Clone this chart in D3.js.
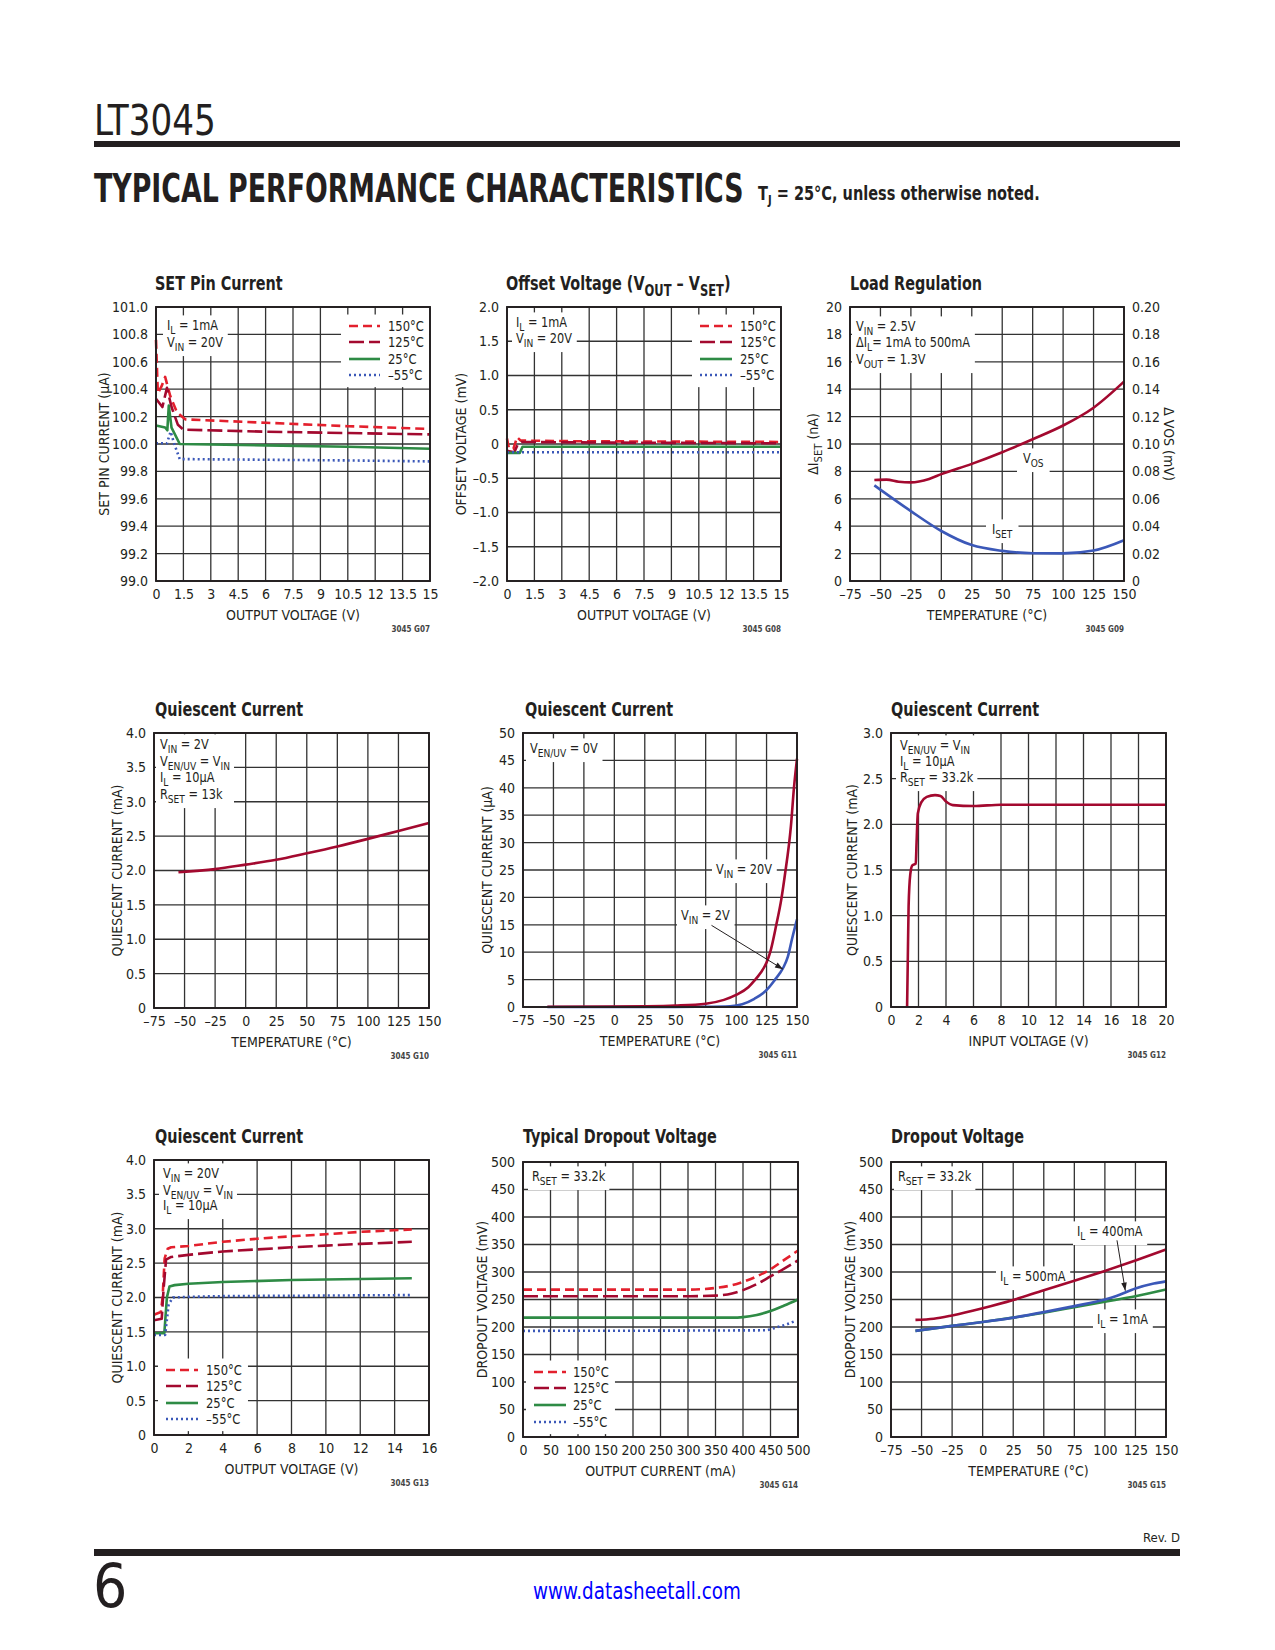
<!DOCTYPE html>
<html><head><meta charset="utf-8">
<script src="https://cdn.jsdelivr.net/npm/d3@7"></script>
<style>
body{margin:0;background:#fff;}
svg text{white-space:pre;}
</style></head><body>
<svg id="page" width="1275" height="1650" xmlns="http://www.w3.org/2000/svg" style="display:block"></svg>
<script>
// ---------------- DATA ----------------
// G07 SET pin current vs output voltage (µA)
const setPin150 = [[0,100.76],[0.1,100.37],[0.3,100.42],[0.5,100.49],[0.78,100.35],[1.15,100.23],[1.6,100.18],[6,100.155],[10.5,100.13],[15,100.11]];
const setPin125 = [[0,100.33],[0.35,100.27],[0.6,100.41],[0.85,100.27],[1.2,100.14],[1.5,100.105],[6,100.09],[10.5,100.08],[15,100.07]];
const setPin25  = [[0,100.135],[0.5,100.12],[0.62,100.1],[0.7,100.28],[0.85,100.12],[1.3,100.0],[6,99.99],[10.5,99.98],[15,99.965]];
const setPinM55 = [[0,100.005],[0.6,100.005],[0.8,100.09],[1.0,100.0],[1.3,99.89],[6,99.885],[10.5,99.88],[15,99.873]];
// G08 offset voltage (mV)
const offset150 = [[0,0.08],[0.1,-0.06],[0.35,-0.07],[0.55,0.1],[0.75,0.05],[4,0.04],[15,0.03]];
const offset125 = [[0,-0.1],[0.4,-0.12],[0.6,0.0],[0.8,0.03],[6,0.02],[15,0.01]];
const offset25  = [[0,-0.13],[0.7,-0.13],[0.85,-0.04],[15,-0.04]];
const offsetM55 = [[0,-0.12],[15,-0.12]];
// G09 load regulation
const loadIset = [[-55,6.98],[-25,5.1],[0,3.65],[25,2.62],[50,2.2],[75,2.03],[100,2.02],[125,2.22],[150,2.97]];       // nA
const loadVos  = [[-55,0.0737],[-45,0.074],[-35,0.0725],[-25,0.072],[-10,0.0745],[0,0.078],[25,0.0855],[50,0.094],[75,0.1035],[100,0.1135],[125,0.1265],[150,0.1455]]; // mV
// G10 quiescent current vs temperature (mA)
const iqTemp = [[-55,1.975],[-25,2.02],[0,2.085],[25,2.155],[50,2.25],[75,2.35],[100,2.46],[125,2.575],[150,2.69]];
// G11 shutdown quiescent current (µA)
const iqOff20 = [[-55,0.05],[0,0.08],[25,0.12],[50,0.25],[75,0.6],[90,1.3],[100,2.2],[110,3.6],[115,4.8],[120,6.2],[125,8.1],[128,10],[133,15],[137,19.5],[140,24],[145,33],[147.5,40],[150,45.3]];
const iqOff2  = [[-55,0],[50,0.02],[75,0.05],[95,0.15],[105,0.5],[115,1.5],[122,2.5],[127,3.6],[132,5],[136,6.2],[139,7.3],[142.5,9.2],[146,12.5],[150,16]];
// G12 quiescent current vs input voltage (mA)
const iqVin = [[1.17,0],[1.22,0.5],[1.28,1.1],[1.4,1.45],[1.55,1.55],[1.8,1.57],[1.86,1.8],[1.95,2.12],[2.2,2.24],[2.6,2.3],[3.2,2.32],[3.6,2.31],[4.0,2.25],[4.5,2.21],[6,2.2],[8,2.215],[20,2.215]];
// G13 quiescent current vs output voltage (mA)
const iqVout150 = [[0,1.75],[0.4,1.79],[0.5,2.0],[0.62,2.57],[0.8,2.71],[1,2.73],[2,2.75],[4,2.81],[6,2.855],[8,2.89],[10,2.92],[12,2.955],[15,2.99]];
const iqVout125 = [[0,1.67],[0.45,1.69],[0.55,2.1],[0.7,2.55],[1,2.59],[2,2.62],[4,2.67],[6,2.70],[8,2.73],[10,2.755],[12,2.78],[15,2.81]];
const iqVout25  = [[0,1.48],[0.6,1.48],[0.75,2.0],[0.9,2.16],[1.2,2.18],[2,2.2],[4,2.225],[8,2.255],[15,2.28]];
const iqVoutM55 = [[0,1.455],[0.65,1.455],[0.85,1.9],[1.1,2.0],[2,2.01],[4,2.02],[15,2.035]];
// G14 dropout vs output current (mV)
const drop150 = [[0,268],[300,268],[350,271],[380,276],[400,282],[425,292],[450,305],[475,322],[500,339]];
const drop125 = [[0,256],[300,256],[350,257],[380,261],[400,267],[425,278],[450,292],[475,306],[500,321]];
const drop25  = [[0,217],[380,217],[400,218],[425,222],[450,229],[475,239],[500,250]];
const dropM55 = [[0,193],[440,194],[460,199],[480,205],[495,211]];
// G15 dropout vs temperature (mV)
const dropT500 = [[-55,213],[-40,215],[-25,221],[0,234],[25,249],[50,267],[75,284],[100,302],[125,321],[150,341]];
const dropT400 = [[-55,193],[-25,202],[0,209],[25,217],[50,227],[75,238],[100,250],[110,257],[125,270],[140,279],[150,283]];
const dropT1   = [[-55,193],[-25,202],[0,209],[25,217],[50,226],[75,236],[100,246],[125,256],[150,268]];

// tick values
const voutTicks = [0,1.5,3,4.5,6,7.5,9,10.5,12,13.5,15];
const setPinTicks = [99.0,99.2,99.4,99.6,99.8,100.0,100.2,100.4,100.6,100.8,101.0];
const offsetTicks = [-2,-1.5,-1,-0.5,0,0.5,1,1.5,2];
const tempTicks = [-75,-50,-25,0,25,50,75,100,125,150];
const isetTicks = [0,2,4,6,8,10,12,14,16,18,20];
const vosTicks = [0,0.02,0.04,0.06,0.08,0.10,0.12,0.14,0.16,0.18,0.20];
const iq4Ticks = [0,0.5,1,1.5,2,2.5,3,3.5,4];
const iq50Ticks = [0,5,10,15,20,25,30,35,40,45,50];
const iq3Ticks = [0,0.5,1,1.5,2,2.5,3];
const vinTicks = [0,2,4,6,8,10,12,14,16,18,20];
const vout16Ticks = [0,2,4,6,8,10,12,14,16];
const mV500Ticks = [0,50,100,150,200,250,300,350,400,450,500];
const tempLabels = ["150°C","125°C","25°C","–55°C"];

// ---------------- STYLE ----------------
const FONT = '"Liberation Sans Narrow","Arial Narrow","DejaVu Sans Condensed",sans-serif';
const INK = "#231f20";
const RED="#e3202d", DKRED="#a3092f", GREEN="#2e8b45", BLUE="#3b58b8";
const S150={color:RED,dash:"9,5"}, S125={color:DKRED,dash:"15,5"}, S25={color:GREEN,dash:null}, SM55={color:BLUE,dash:"2,3"};
const tempStyles=[S150,S125,S25,SM55];

const svg = d3.select("#page");
svg.append("rect").attr("width",1275).attr("height",1650).attr("fill","#fff");
const defs = svg.append("defs");
defs.append("marker").attr("id","arr").attr("viewBox","0 0 10 10").attr("refX",10).attr("refY",5)
  .attr("markerWidth",10).attr("markerHeight",8).attr("orient","auto").attr("markerUnits","userSpaceOnUse")
  .append("path").attr("d","M0,1.5 L10,5 L0,8.5 z").attr("fill",INK);

// horizontal squeeze about the anchor point (emulates a condensed face)
function squeeze(t, x, y, sx){
  t.attr("transform",`translate(${x},${y}) scale(${sx},1) translate(${-x},${-y})`);
}
function fitWidth(t, x, y, target){
  const w=t.node().getComputedTextLength();
  squeeze(t,x,y,target/w);
}

function rich(g, str, x, y, o={}){
  const size=o.size||14;
  const t=g.append("text").attr("x",x).attr("y",y).attr("font-size",size).attr("font-family",FONT)
    .attr("fill",o.fill||INK).attr("text-anchor",o.anchor||"start");
  if(o.weight) t.attr("font-weight",o.weight);
  const re=/_\{([^}]*)\}/g; let last=0,m; const parts=[];
  while((m=re.exec(str))){ if(m.index>last) parts.push([str.slice(last,m.index),false]); parts.push([m[1],true]); last=re.lastIndex; }
  if(last<str.length) parts.push([str.slice(last),false]);
  let down=false; const sh=size*0.28;
  parts.forEach(([s,sub])=>{
    const ts=t.append("tspan").text(s);
    if(sub){ ts.attr("font-size",size*0.8); if(!down){ts.attr("dy",sh);down=true;} }
    else if(down){ ts.attr("dy",-sh); down=false; }
  });
  if(o.transform) t.attr("transform",o.transform);
  else if(o.sx) squeeze(t,x,y,o.sx);
  return t;
}

function unionBox(nodes){
  let x0=1e9,y0=1e9,x1=-1e9,y1=-1e9;
  nodes.forEach(n=>{const b=n.getBoundingClientRect(); x0=Math.min(x0,b.left);y0=Math.min(y0,b.top);x1=Math.max(x1,b.right);y1=Math.max(y1,b.bottom);});
  return {x0,y0,x1,y1};
}

function drawChart(c){
  const g=svg.append("g");
  const x=d3.scaleLinear().domain(c.xd).range([c.l,c.r]);
  const y=d3.scaleLinear().domain(c.yd).range([c.b,c.t]);
  const y2=c.y2d?d3.scaleLinear().domain(c.y2d).range([c.b,c.t]):null;
  const gridL=g.append("g"), boxL=g.append("g"), dataL=g.append("g"), txtL=g.append("g");
  gridL.selectAll("line.v").data(c.xt).join("line").attr("class","v")
    .attr("x1",d=>x(d)).attr("x2",d=>x(d)).attr("y1",c.t).attr("y2",c.b).attr("stroke","#333").attr("stroke-width",1.3);
  gridL.selectAll("line.h").data(c.yt).join("line").attr("class","h")
    .attr("x1",c.l).attr("x2",c.r).attr("y1",d=>y(d)).attr("y2",d=>y(d)).attr("stroke","#333").attr("stroke-width",1.3);
  const styleAxis=s=>{s.select(".domain").remove(); s.selectAll("text").attr("font-size",14).attr("font-family",FONT).attr("fill",INK);};
  g.append("g").attr("transform",`translate(0,${c.b})`)
    .call(d3.axisBottom(x).tickValues(c.xt).tickFormat(c.xf).tickSize(0).tickPadding(8)).call(styleAxis);
  g.append("g").attr("transform",`translate(${c.l},0)`)
    .call(d3.axisLeft(y).tickValues(c.yt).tickFormat(c.yf).tickSize(0).tickPadding(8)).call(styleAxis);
  if(y2){
    g.append("g").attr("transform",`translate(${c.r},0)`)
      .call(d3.axisRight(y2).tickValues(c.y2t).tickFormat(c.y2f).tickSize(0).tickPadding(8)).call(styleAxis);
  }
  c.series.forEach(s=>{
    const ys=s.y2?y2:y;
    const line=d3.line().x(d=>x(d[0])).y(d=>ys(d[1])).curve(s.curve||d3.curveMonotoneX);
    const p=dataL.append("path").datum(s.data).attr("d",line).attr("fill","none")
      .attr("stroke",s.style.color).attr("stroke-width",2.6).attr("stroke-linejoin","round");
    if(s.style.dash) p.attr("stroke-dasharray",s.style.dash);
  });
  (c.arrows||[]).forEach(a=>{
    txtL.append("line").attr("x1",x(a[0])).attr("y1",y(a[1])).attr("x2",x(a[2])).attr("y2",y(a[3]))
      .attr("stroke",INK).attr("stroke-width",1).attr("marker-end","url(#arr)");
  });
  (c.notes||[]).forEach(n=>{
    const nodes=n.lines.map(L=>rich(txtL,L[0],L[1],L[2],{sx:0.9}).node());
    const b=unionBox(nodes); const p=n.pad||4;
    const bx0=Math.max(b.x0-p,c.l+1), bx1=Math.min(b.x1+p,c.r-1), by0=Math.max(b.y0-2,c.t+1), by1=Math.min(b.y1+2,c.b-1);
    boxL.append("rect").attr("x",bx0).attr("y",by0).attr("width",bx1-bx0).attr("height",by1-by0).attr("fill","#fff");
  });
  if(c.legend){
    const L=c.legend, nodes=[];
    L.rows.forEach((r,i)=>{
      const ln=txtL.append("line").attr("x1",L.x1).attr("x2",L.x2).attr("y1",r-5).attr("y2",r-5)
        .attr("stroke",tempStyles[i].color).attr("stroke-width",2.6);
      if(tempStyles[i].dash) ln.attr("stroke-dasharray",tempStyles[i].dash);
      nodes.push(ln.node());
      nodes.push(rich(txtL,tempLabels[i],L.tx,r,{sx:0.92}).node());
    });
    const b=unionBox(nodes);
    const bx0=Math.max(b.x0-8,c.l+1), bx1=Math.min(b.x1+6,c.r-1), by0=Math.max(b.y0-4,c.t+1), by1=Math.min(b.y1+4,c.b-1);
    boxL.append("rect").attr("x",bx0).attr("y",by0).attr("width",bx1-bx0).attr("height",by1-by0).attr("fill","#fff");
  }
  g.append("rect").attr("x",c.l).attr("y",c.t).attr("width",c.r-c.l).attr("height",c.b-c.t)
    .attr("fill","none").attr("stroke",INK).attr("stroke-width",1.9);
  rich(g,c.title,c.tx,c.ty,{size:20,weight:"bold",sx:0.8});
  rich(g,c.xlab,(c.l+c.r)/2,c.b+39,{anchor:"middle"});
  const cy=(c.t+c.b)/2;
  rich(g,c.ylab,c.ylx,cy,{anchor:"middle",transform:`rotate(-90,${c.ylx},${cy})`});
  if(c.y2lab) rich(g,c.y2lab,c.y2lx,cy,{anchor:"middle",transform:`rotate(90,${c.y2lx},${cy})`});
  g.append("text").attr("x",c.r).attr("y",c.b+51).attr("text-anchor","end").attr("font-size",8)
    .attr("font-weight","bold").attr("font-family",FONT).attr("fill","#444").text(c.code);
}

const en = s=>String(s).replace("-","–");
const f1 = d=>d===0?"0":en(d.toFixed(1));
const fi = d=>en(d);

// ---------------- HEADER / FOOTER ----------------
{
  const t=svg.append("text").attr("x",94).attr("y",135).attr("font-size",42).attr("font-family",FONT).attr("fill",INK).text("LT3045");
  fitWidth(t,94,135,122);
}
svg.append("rect").attr("x",94).attr("y",141).attr("width",1086).attr("height",6).attr("fill",INK);
{
  const t=svg.append("text").attr("x",94).attr("y",202).attr("font-size",39).attr("font-weight","bold").attr("font-family",FONT)
    .attr("fill",INK).text("TYPICAL PERFORMANCE CHARACTERISTICS");
  fitWidth(t,94,202,650);
}
{
  const t=svg.append("text").attr("x",758).attr("y",200).attr("font-size",19).attr("font-weight","bold").attr("font-family",FONT).attr("fill",INK);
  t.append("tspan").text("T");
  t.append("tspan").attr("font-size",13).attr("dy",4).text("J");
  t.append("tspan").attr("dy",-4).text(" = 25°C, unless otherwise noted.");
  fitWidth(t,758,200,282);
}
svg.append("text").attr("x",1180).attr("y",1542).attr("text-anchor","end").attr("font-size",13).attr("font-family",FONT).attr("fill",INK).text("Rev. D");
svg.append("rect").attr("x",94).attr("y",1549).attr("width",1086).attr("height",7).attr("fill",INK);
svg.append("text").attr("x",93).attr("y",1607).attr("font-size",60).attr("font-family",FONT).attr("fill",INK).text("6");
{
  const t=svg.append("text").attr("x",637).attr("y",1599).attr("text-anchor","middle").attr("font-size",23).attr("font-family",FONT)
    .attr("fill","#0000ff").text("www.datasheetall.com");
  fitWidth(t,637,1599,208);
}

// ---------------- CHARTS ----------------
const tempSeries=(a,b,c,d)=>[{data:a,style:S150},{data:b,style:S125},{data:c,style:S25},{data:d,style:SM55}];

drawChart({l:156,r:430,t:307,b:581,xd:[0,15],yd:[99,101],xt:voutTicks,yt:setPinTicks,xf:fi,yf:d=>d.toFixed(1),
  title:"SET Pin Current",tx:155,ty:290,xlab:"OUTPUT VOLTAGE (V)",ylab:"SET PIN CURRENT (µA)",ylx:109,code:"3045 G07",
  series:tempSeries(setPin150,setPin125,setPin25,setPinM55).map(s=>({...s,curve:d3.curveLinear})),
  notes:[{lines:[["I_{L} = 1mA",167,330],["V_{IN} = 20V",167,347]]}],
  legend:{x1:349,x2:380,tx:388,rows:[331,347,364,380]}});

drawChart({l:507,r:781,t:307,b:581,xd:[0,15],yd:[-2,2],xt:voutTicks,yt:offsetTicks,xf:fi,yf:f1,
  title:"Offset Voltage (V_{OUT} – V_{SET})",tx:506,ty:290,xlab:"OUTPUT VOLTAGE (V)",ylab:"OFFSET VOLTAGE (mV)",ylx:466,code:"3045 G08",
  series:tempSeries(offset150,offset125,offset25,offsetM55).map(s=>({...s,curve:d3.curveLinear})),
  notes:[{lines:[["I_{L} = 1mA",516,327],["V_{IN} = 20V",516,343]]}],
  legend:{x1:700,x2:732,tx:740,rows:[331,347,364,380]}});

drawChart({l:850,r:1124,t:307,b:581,xd:[-75,150],yd:[0,20],xt:tempTicks,yt:isetTicks,xf:fi,yf:fi,
  y2d:[0,0.2],y2t:vosTicks,y2f:d=>d===0?"0":d.toFixed(2),
  title:"Load Regulation",tx:850,ty:290,xlab:"TEMPERATURE (°C)",ylab:"ΔI_{SET} (nA)",ylx:818,y2lab:"Δ VOS (mV)",y2lx:1164,code:"3045 G09",
  series:[{data:loadVos,style:{color:DKRED},y2:true},{data:loadIset,style:{color:BLUE}}],
  notes:[{lines:[["V_{IN} = 2.5V",856,331],["ΔI_{L}= 1mA to 500mA",856,347],["V_{OUT} = 1.3V",856,364]]},
         {lines:[["V_{OS}",1023,463]],pad:6},{lines:[["I_{SET}",992,534]],pad:6}]});

drawChart({l:154,r:429,t:733,b:1008,xd:[-75,150],yd:[0,4],xt:tempTicks,yt:iq4Ticks,xf:fi,yf:f1,
  title:"Quiescent Current",tx:155,ty:716,xlab:"TEMPERATURE (°C)",ylab:"QUIESCENT CURRENT (mA)",ylx:122,code:"3045 G10",
  series:[{data:iqTemp,style:{color:DKRED}}],
  notes:[{lines:[["V_{IN} = 2V",160,749],["V_{EN/UV} = V_{IN}",160,766],["I_{L} = 10µA",160,782],["R_{SET} = 13k",160,799]]}]});

drawChart({l:523,r:797,t:733,b:1007,xd:[-75,150],yd:[0,50],xt:tempTicks,yt:iq50Ticks,xf:fi,yf:fi,
  title:"Quiescent Current",tx:525,ty:716,xlab:"TEMPERATURE (°C)",ylab:"QUIESCENT CURRENT (µA)",ylx:492,code:"3045 G11",
  series:[{data:iqOff2,style:{color:BLUE}},{data:iqOff20,style:{color:DKRED}}],
  arrows:[[79.8,14.9,138.5,6.9]],
  notes:[{lines:[["V_{EN/UV} = 0V",530,753]]},{lines:[["V_{IN} = 20V",716,874]]},{lines:[["V_{IN} = 2V",681,920]]}]});

drawChart({l:891,r:1166,t:733,b:1007,xd:[0,20],yd:[0,3],xt:vinTicks,yt:iq3Ticks,xf:fi,yf:f1,
  title:"Quiescent Current",tx:891,ty:716,xlab:"INPUT VOLTAGE (V)",ylab:"QUIESCENT CURRENT (mA)",ylx:857,code:"3045 G12",
  series:[{data:iqVin,style:{color:DKRED}}],
  notes:[{lines:[["V_{EN/UV} = V_{IN}",900,750],["I_{L} = 10µA",900,766],["R_{SET} = 33.2k",900,782]]}]});

drawChart({l:154,r:429,t:1160,b:1435,xd:[0,16],yd:[0,4],xt:vout16Ticks,yt:iq4Ticks,xf:fi,yf:f1,
  title:"Quiescent Current",tx:155,ty:1143,xlab:"OUTPUT VOLTAGE (V)",ylab:"QUIESCENT CURRENT (mA)",ylx:122,code:"3045 G13",
  series:tempSeries(iqVout150,iqVout125,iqVout25,iqVoutM55).map(s=>({...s,curve:d3.curveLinear})),
  notes:[{lines:[["V_{IN} = 20V",163,1178],["V_{EN/UV} = V_{IN}",163,1195],["I_{L} = 10µA",163,1210]]}],
  legend:{x1:166,x2:198,tx:206,rows:[1375,1391,1408,1424]}});

drawChart({l:523,r:798,t:1162,b:1437,xd:[0,500],yd:[0,500],xt:mV500Ticks,yt:mV500Ticks,xf:fi,yf:fi,
  title:"Typical Dropout Voltage",tx:523,ty:1143,xlab:"OUTPUT CURRENT (mA)",ylab:"DROPOUT VOLTAGE (mV)",ylx:487,code:"3045 G14",
  series:tempSeries(drop150,drop125,drop25,dropM55),
  notes:[{lines:[["R_{SET} = 33.2k",532,1181]]}],
  legend:{x1:534,x2:566,tx:573,rows:[1377,1393,1410,1427]}});

drawChart({l:891,r:1166,t:1162,b:1437,xd:[-75,150],yd:[0,500],xt:tempTicks,yt:mV500Ticks,xf:fi,yf:fi,
  title:"Dropout Voltage",tx:891,ty:1143,xlab:"TEMPERATURE (°C)",ylab:"DROPOUT VOLTAGE (mV)",ylx:855,code:"3045 G15",
  series:[{data:dropT1,style:{color:GREEN}},{data:dropT400,style:{color:BLUE}},{data:dropT500,style:{color:DKRED}}],
  arrows:[[109.9,357.6,116.7,266]],
  notes:[{lines:[["R_{SET} = 33.2k",898,1181]]},{lines:[["I_{L} = 400mA",1077,1236]]},{lines:[["I_{L} = 500mA",1000,1281]]},{lines:[["I_{L} = 1mA",1097,1324]]}]});
</script>
</body></html>
